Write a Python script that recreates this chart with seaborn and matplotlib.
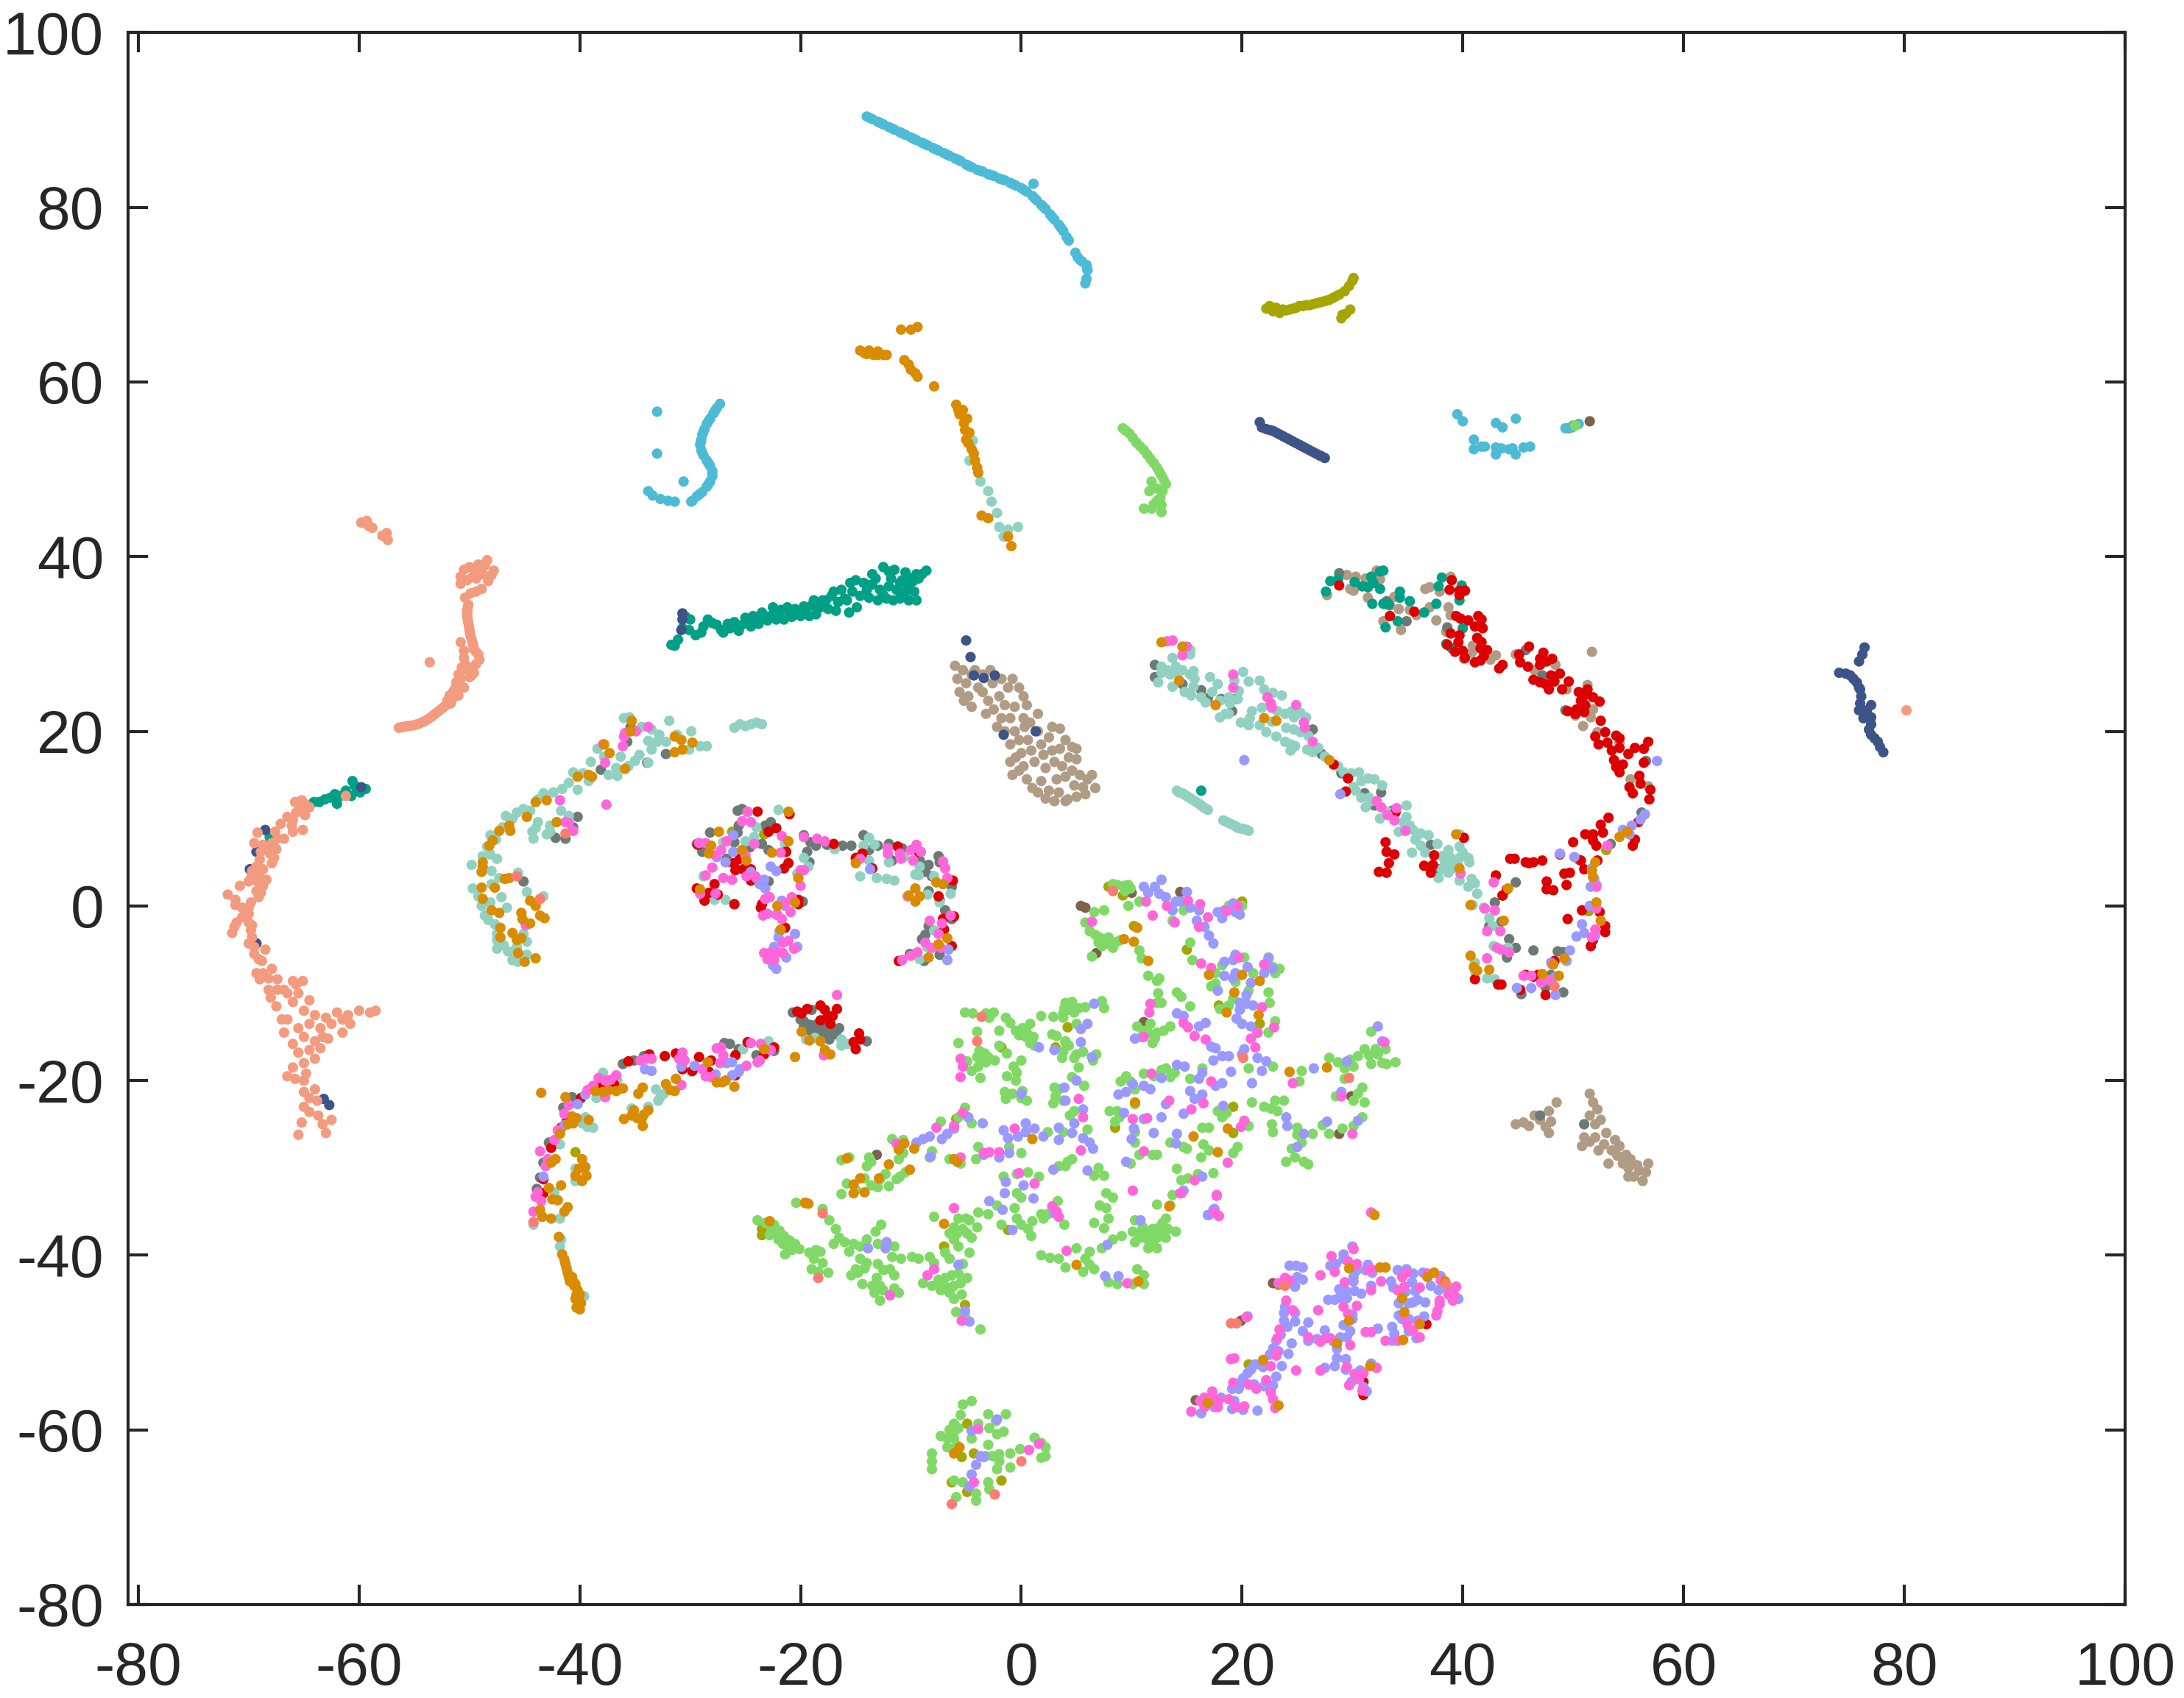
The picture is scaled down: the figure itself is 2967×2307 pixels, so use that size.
# tsne scatter, points
import pandas as pd
import matplotlib.pyplot as plt
import seaborn as sns

olive = [(22.2,68.4),(22.5,68.7),(22.8,68.1),(23.1,68.5),(23.4,67.9),(23.7,68.3),(24,68.2),(24.6,68.4),(25.2,68.7),
    (25.8,68.8),(26.4,68.9),(27,69.1),(27.6,69.3),(28.2,69.6),(28.8,70),(29.3,70.4),(29.7,71),(30,71.6),(30.1,71.9),
    (29,67.3),(29.4,67.8),(29.8,68.3),(29.1,67.7),(-23.3,8.2),(-26.2,8.5),(-40.4,-28.2),(50.5,5.3),(53,6.4),(51.4,-.6),
    (9.2,1.2),(7.9,2.2),(10.2,-2.3),(15,-5),(17.9,-11.4),(19.2,-23),(19.2,-26),(21.6,-13.5),(8.5,-25.4),(-23.5,-37.7),
    (-23.5,-37),(-7,-39),(-6.1,-62.2),(-5.4,-63.1),(-6.3,-66),(-4.9,-67.1),(-4.9,-59.3),(-4.3,-62.7),(-1.8,-65.8),
    (-1.8,-16.2),(4.2,-13.9),(4,-15.6),(-5.9,-24.4),(3.1,-16.2),(-1.2,-37.1),(-5.1,-45.7),(20,.5),(20.6,-52.5),(23.3,-43.4),
    (50,55),(49.6,54.7),(24.3,68.3),(24.9,68.5),(25.5,68.7),(26.1,68.8),(26.7,69),(27.3,69.2),(27.9,69.4),(28.5,69.8)]

brown = [(5.4,0),(5.8,-.2),(14.4,1.6),(6.8,-5.4),(10,1.5),(28.8,-26.1),(29.9,-21.8),(11.1,-13.3),(-13.1,-28.5),
    (51.5,55.5),(22.8,-43.2),(19.9,-47.5),(15.8,-56.6)]

tan = [(27.7,35.6),(29.5,37.9),(30.3,37.7),(31.2,37.5),(32.2,38.4),(32.5,37.4),(29.8,36.3),(30.1,36.1),(31.4,35.3),
    (33.8,35.4),(33.4,34.4),(34.2,34),(35.2,33.9),(35.8,33.3),(37,34.2),(36.6,36.3),(37,36.5),(37.9,36),(38.9,37.7),
    (38.7,34.2),(38.9,33.3),(37.6,32.7),(32.8,32.6),(34.4,31.6),(38.5,31.4),(40.9,29.8),(40.8,29),(40.1,28.3),(43,28.7),
    (42.5,28.2),(44.8,28.8),(46.5,27),(48.4,27.6),(49.4,24.8),(51.7,29.1),(51.3,25.3),(51.8,22.5),(51.6,21.6),(50.9,20.6),
    (50.2,21.8),(52.2,19.9),(55.2,14.5),(56.8,13.7),(54.2,18.7),
    (-6,27.5),(-5.8,26),(-5.6,24.5),(-5,25.5),(-4.8,24),(-4.2,27),(-3.9,25),(-3.5,24.5),(-3,23.5),(-2.6,25.5),(-2.5,22.5),
    (-2,24),(-1.8,26),(-1.5,23),(-1.2,25),(-1,21.5),(-.6,22.8),(-.2,25),(.2,24),(.5,23),(-1.5,20),(-1,18.5),(-.6,20),
    (-.2,19),(0,17.5),(.3,20.5),(.6,19),(.9,17.8),(1.2,16.5),(-.5,17),(-1,16.5),(1.5,20),(1.8,18.5),(2,17.3),(2.2,15.8),
    (2.5,19.3),(2.8,17.8),(3,16.5),(3.2,14.5),(3.5,18),(3.7,16),(4,14.8),(4.3,17),(4.6,15.5),(4.8,13.8),(5,12.5),(5.3,15),
    (5.6,13.6),(6,14.5),(6.4,15),(4.2,12.2),(3.4,13),(.5,14.5),(1,13.5),(1.8,14.3),(2.5,13.2),(3,12),(-4.5,22.8),(-.2,15.5),
    (5,16.8),(-5.3,27),(-5.2,23.5),(-4.5,26.5),(-3.5,26.5),(-3.2,22),(-2.2,20.5),(-1.8,21.5),(-2.8,27),(-.8,26),(.2,21.5),
    (.8,21),(1.5,22),(2.8,20.5),(3.5,20.3),(4,19),(4.6,18.2),(5,18),(.2,16),(-.8,15),(1.5,13),(2.2,12.3),(4,12),(5.8,12.8),(6.7,13.5),
    (44.8,-25),(45.5,-24.8),(46,-25.2),(46.5,-24),(47,-24.5),(47.5,-25.3),(47.8,-23.5),(48,-24.7),(48.5,-22.5),(47.8,-26),
    (51.5,-21.5),(51.8,-22.5),(52.2,-23.3),(51.5,-24),(52,-25),(52.5,-24.5),(51,-26.5),(50.8,-27.5),(51.5,-27),(52,-26.5),
    (52.3,-28),(52.8,-27.3),(53,-26),(53.5,-28),(53.8,-26.8),(54,-28.6),(54.2,-27.5),(54.5,-29.5),(54.8,-28.5),(55,-30),
    (55.2,-29),(55.5,-31),(55.8,-29.7),(56,-30.3),(56.3,-31.5),(56.6,-30.5),(56.8,-29.5),(53.2,-29.5),(55,-31)]

gray = [(-35.4,20.5),(-35.7,18.8),(-32.2,17.4),(-33.9,16.4),(-38.1,15.6),(-40.2,10.2),(-40.6,9),(-41.3,7.7),(-42.2,7.8),(-45.1,2.8),
    (-25.7,10.9),(-25.3,11.1),(-22.7,9.6),(-23.2,9.2),(-25.6,9.2),(-25.7,8.4),(-28.2,8.4),(-29.4,7.1),(-28.9,6.2),(-26,7.3),
    (-24.6,6.7),(-23.5,7.1),(-22.9,6.4),(-26.4,5),(-26.7,5.4),(-22.9,2.8),(-19.7,8.1),(-19.1,7.3),(-19.4,6.2),(-18.6,6.9),
    (-17.6,7),(-16.2,6.9),(-15.4,6.9),(-19.2,5),(-14.3,8.1),(-13.8,6.4),(-13,6.9),(-12,7.1),(-11.7,5.2),(-10.8,6.6),(-9.2,5.2),
    (-8.4,4.7),(-8.7,3.9),(-7.5,5.7),(-7.4,5),(-8.1,3.4),(-6.3,2.2),(-8.4,1.7),(-7.4,.7),(-6.9,-.5),(-6.3,-1.5),(-8.4,-2.3),
    (-8.7,-3.3),(-9,-3.8),(-8.5,-4.7),(-10.1,-5.5),(-7.4,-5.6),(-8.8,-6.3),(-19.8,.5),
    (-20.7,-12.2),(-20,-13),(-19.7,-13.8),(-19.2,-13.6),(-19.5,-14.3),(-18.7,-14.1),(-18.2,-14.5),(-17.8,-14),(-17.4,-14.5),
    (-17,-14.3),(-16.5,-14),(-17.4,-15.3),(-17.9,-14.9),(-18.7,-14.9),(-14,-15.5),(-19,-11.9),(-16.8,-14.7),(-19.2,-14.7),
    (-19.7,-13.2),(-18.6,-13.6),
    (-36.1,-18.1),(-35.1,-17.7),(-34.2,-17.2),(-26.9,-15.7),(-26.4,-15.8),(-25.6,-16.4),(-24,-17.1),(-22.4,-16.6),(-40.7,-21.9),
    (-41.5,-23.1),(-42.8,-27.1),(-43.3,-29.4),(-43.6,-31.1),(-43.9,-32.4),
    (12.1,27.6),(12.1,26.2),(14.6,25.4),(16.3,24.7),(16.9,23.8),(18.1,23.7),(19.1,22.3),(19.4,23.7),(26.4,20.2),(27.2,17.4),
    (29,15.2),(31.1,12.9),(32.6,13),(32,11.5),(33.6,10.9),(37.1,7),(37.9,4.2),(42.9,.4),(44.8,2.7),(43.6,1.2),(43.5,-1.8),
    (42.4,-2.3),(44.2,-3.8),(44.8,-4.8),(44,-5.9),(46.4,-5.1),(48.6,-5.2),(49.1,-5.3),(48,-7.9),(49.1,-9.9),(47.5,-9.3),
    (45.3,-10.1),(53.4,7.1),(56.2,10.7),(56.6,16.6),(33.1,34.9),(38.6,31.9),(45.7,29.3),(47.2,26.4),(49.3,22.4),(34.9,32.6),
    (28.8,38.1),(47,-24),(51,-25)]

mint = [(-28.5,18.3),(-29.1,18.3),(-29.9,20),(-31.9,21.2),(-30.1,17.9),(-31.2,19.6),(-32.2,18.8),(-32.8,19.6),(-33,18.8),(-33.8,18.9),
    (-33.5,17.9),(-33.8,16.4),(-34.6,17.3),(-35,16.6),(-35.6,16),(-36.3,17.1),(-36.7,15.8),(-36.6,14.9),(-37.4,15),(-36,21.5),
    (-35.5,21.6),(-34.4,20.5),(-33.5,20.2),(-38.4,18),(-37.8,17.1),(-39,16.5),(-39.7,15.2),(-40.6,15.3),(-39.2,14.3),(-40.2,13.3),
    (-41,14.1),(-41.6,13.4),(-42.4,13),(-43.3,12.9),(-43.8,12.2),(-41.7,10.9),(-41,10.3),(-42.7,9.2),(-43.8,9.6),(-44,8.9),
    (-42.7,8.5),(-44.3,8.5),(-43,8.2),(-44.2,7.7),(-44.5,10.9),(-45.1,11.1),(-45.7,10.7),(-46.7,10.3),(-46.1,10),(-47,9),(-48.1,8.1),
    (-47.6,7.6),(-48.4,6.8),(-48.8,5.7),(-47.5,5.4),(-48.1,5.9),(-49.8,4.7),(-48,4),(-45.6,3.8),(-47.3,3.2),(-49.7,2),(-48,2.5),
    (-44.8,1.6),(-49.2,1.1),(-47.1,1),(-43.3,1.1),(-48.9,0),(-48.1,.4),(-46.6,-.2),(-48.6,-1.1),(-48.3,-1.6),(-47.7,-2.1),
    (-47.5,-3.2),(-47.5,-3.9),(-45.1,-3.2),(-47.5,-4.9),(-46.9,-4.5),(-44.8,-4.1),(-46.5,-5.2),(-45.7,-4.7),(-46.1,-6.2),
    (-44.8,-5.6),(-45.6,-6.4),(-26,20.4),(-25.5,20.8),(-25,20.6),(-24.5,20.8),(-24,21),(-23.5,20.8),
    (-24.8,10.7),(-22,11),(-24,9),(-24.2,7.9),(-25,7.4),(-27,7.3),(-28.8,3.4),(-26.8,.7),(-26,.2),(-27.8,.7),(-21.4,7.1),
    (-19.7,5.5),(-19.3,4.5),(-20.3,3.7),(-16.9,6.5),(-13.8,7.8),(-13.3,7),(-14.3,6.9),(-13.8,5.2),(-12,5),(-14.6,3.4),(-13.1,3.2),
    (-12.2,3.1),(-11.5,2.9),(-10.6,5.6),(-9.2,4.5),(-9.6,3.6),(-9.3,3.5),(-7.9,3.4),(-8.5,1.3),(-6.4,1.4),(-7.4,.4),(-7.9,-2.8),
    (-8.5,-4.7),(-9.2,-6.1),
    (-16.3,-15.3),(-16.3,-16),(-15.7,-15.8),(-18.7,-15.1),(-19.5,-15.3),
    (-37.9,-19.1),(-36.6,-20),(-38.5,-22),(-33.1,-21),(-32.4,-21.5),(-32.7,-21.9),(-32.9,-22.3),(-35.3,-23.2),(-33.8,-23),
    (-39.5,-24.2),(-39.8,-24.9),(-39.3,-25.3),(-38.8,-25.4),(-41.8,-27.3),(-40.4,-30.1),(-40.4,-31.5),(-41.8,-35.8),(-44.2,-36.5),
    (-42.3,-32.8),(-41.8,-39),(-41.7,-38.2),(-29.9,-19),(-22.9,-15.5),(-25.2,-16.4),(-39.6,-44.7),
    (-4.7,51),(-3.7,48.6),(-3,47.5),(-2.7,46.3),(-2.2,45),(-2,43.4),(-1.2,43.1),(-.3,43.4),(-1.6,42.3),(-4.4,53.3),
    (13.7,28.4),(15.3,29.3),(15.3,28.8),(12.7,27.4),(13.2,27),(14,27.4),(14.6,27),(12.7,26.7),(13.5,26.5),(12.4,25.6),(13.7,25.1),
    (14.1,26.7),(15.3,26.5),(15.6,26.9),(15.7,26),(15.6,25.1),(14.8,24.5),(15.4,24.1),(16.3,23.9),(16.7,23.3),(17.1,26.2),
    (17.8,25.4),(17.3,24.5),(18,23.5),(18.8,23.9),(19.3,25.8),(19.7,24.6),(19.6,23.7),(18.9,23.2),(20.1,26.8),(20.6,25.7),
    (21.6,25.8),(22,24.8),(22.8,24.4),(23.6,24.1),(21.8,22.7),(20.9,22.3),(20.7,21.5),(18.5,22),(18,21.6),(18.8,22),(19.9,21),
    (20.6,20.7),(21.6,20.7),(22.2,19.9),(23.1,19.4),(23.2,22.3),(23.9,22),(24.5,22.3),(24.7,21.6),(25.3,22.1),(25.8,21.6),
    (22.7,21.1),(24,20.4),(24.7,20.2),(25.3,19.9),(26,19.5),(23.9,18.8),(24.4,18.5),(24.8,18.3),(24.4,17.8),(25.9,17.9),(26.4,17.6),
    (26.9,18.1),(27.5,17.1),(28.7,16),(29.2,15.3),(29.9,15.2),(30.6,15.3),(30.8,14.3),(31.4,14.6),(32,14.5),(32.7,13.8),(30.1,13.6),
    (30.3,13.2),(30.8,12.4),(31.5,12.4),(31.2,11.3),(31.7,12),(32.5,10),(33.1,10.8),(34.9,11.5),(34.9,10.2),(34.6,9.6),(35.2,9.2),
    (34.2,8.5),(35.5,8.7),(36.2,8.3),(36.9,8.1),(35.7,7.6),(36.2,6.9),(37.7,7.1),(36.6,6.1),(35.4,6.1),(38.7,6.4),(39.7,6.8),(40,6.1),
    (38.1,5.7),(40.5,5.5),(38.9,5.5),(40.6,5),(38.4,5),(39.5,4.9),(38.1,4.2),(39,4.3),(37.8,3.2),(38.7,3.8),(39.7,2.9),(40.8,3.1),
    (41.1,2.6),(40.5,2.2),(41.3,1.4),(40.9,.1),(41.9,-.2),(42.4,-1.4),(42.7,-2.3),(42.8,-4.6),(44.1,-4.8),(41.1,-6.5),(41.1,-7.5),
    (42.2,-8.3),(42.9,-8.4),(39.7,5.5),(39.7,8.2),
    (14.3,13),(14.6,12.9),(15.1,12.5),(15.6,12.1),(16.1,11.7),(16.5,11.3),(16.9,11),(18.3,9.8),(18.8,9.5),(19.3,9.2),(19.7,8.9),
    (20.2,8.8),(20.6,8.6),(14.1,13.2),(14.85,12.7),(15.35,12.3),(15.85,11.9),(16.3,11.5),(16.7,11.15),(18.55,9.65),(19.05,9.35),
    (19.5,9.05),(19.95,8.85),(20.4,8.7)]

cyan = [(-14.0,90.4),(-13.5,90.1),(-13,89.8),(-12.5,89.5),(-12,89.2),(-11.5,88.9),(-11,88.6),(-10.5,88.3),(-10,88.0),(-9.5,87.7),
    (-9,87.4),(-8.5,87.1),(-8,86.8),(-7.5,86.5),(-7,86.2),(-6.5,85.9),(-6,85.6),(-5.5,85.3),(-5,84.9),(-4.5,84.6),(-4,84.3),
    (-3.5,84.1),(-3,83.8),(-2.5,83.6),(-2,83.3),(-1.5,83.1),(-1,82.8),(-.5,82.5),(0,82.2),(.5,81.8),(1,81.3),(1.4,80.8),(1.8,80.3),
    (2.2,79.8),(2.6,79.2),(3,78.6),(3.4,78),(3.8,77.3),(4.1,76.6),(4.9,74.8),(5.1,74.3),(5.5,73.8),(5.9,73.4),(6,72.8),(5.9,71.8),
    (5.8,71.3),(1.1,82.7),(-13.75,90.25),(-12.75,89.65),(-11.75,89.05),(-10.75,88.45),(-9.75,87.85),(-8.75,87.25),(-7.75,86.65),
    (-6.75,86.05),(-5.75,85.45),(-4.75,84.75),(-3.75,84.2),(-2.75,83.7),(-1.75,83.2),(-.75,82.65),(.25,82),(1.2,81.05),(2,80.05),
    (2.8,78.9),(3.6,77.65),(4.3,76.2),(5.3,74),(5.95,73),
    (-27.3,57.5),(-27.6,57),(-27.9,56.4),(-28.2,55.8),(-28.5,55.2),(-28.7,54.6),(-28.9,54),(-29,53.4),(-29.1,52.8),(-29,52.2),
    (-28.8,51.6),(-28.5,51),(-28.2,50.4),(-28,49.8),(-28,49.2),(-28.2,48.6),(-28.5,48),(-28.9,47.4),(-29.4,46.9),(-29.8,46.4),
    (-27.75,56.7),(-28.35,55.5),(-28.8,54.3),(-29.05,53.1),(-28.9,51.9),(-28.35,50.7),(-28,49.5),(-28.35,48.3),(-29.15,47.15),
    (-33,56.6),(-33,51.8),(-30.6,48.6),(-33.8,47.5),(-32.7,46.6),(-31.4,46.3),(-29.9,46.3),(-33.4,47),(-32,46.4),
    (39.5,56.3),(40,55.5),(43,55.3),(44.8,55.8),(43.6,54.8),(41,53.4),(41.7,52.6),(43,52.5),(44.2,52.3),(46.1,52.6),(41,52.3),(43,51.7),
    (44.8,51.7),(49.3,54.7),(49.9,54.8),(50.5,55.2),(43.5,52.4),(44.5,52.4),(42,52.6),(45.5,52.5)]

teal = [(-31.7,29.9),(-31.4,29.8),(-31.1,30.5),(-30.7,31.8),(-30.4,33.1),(-30,32.8),(-30.1,31.6),(-29,31.3),(-28.4,32.8),(-28,32.4),
    (-27.2,31.6),(-26.4,31.8),(-26,32.5),(-25.6,31.5),(-25,33),(-24.5,32),(-24,32.8),(-23.5,33.6),(-23,32.7),(-22.5,34.2),(-22,33.3),
    (-21.5,32.8),(-21,33.5),(-20.5,34),(-20,33.2),(-19.5,33.5),(-19,34.4),(-18.6,33.4),(-18,35),(-17.5,34),(-17,36),(-16.6,34.8),
    (-16,35.2),(-15.6,33.6),(-15,37.3),(-14.6,35.5),(-14,36.2),(-13.5,36.8),(-13,35),(-12.5,35.6),(-12,36.6),(-11.6,35),(-11,37),
    (-10.5,36),(-10,37.5),(-9.5,35),(-9,38),(-8.6,38.4),(-12.5,38.8),(-12,38.3),(-11.5,38.5),(-13.5,38),(-14,36.8),(-10.5,38.2),
    (-9.5,38),(-15.5,37),(-11,35.2),(-29.5,31),(-28.8,32),(-27.6,32.2),(-27,31.3),(-26.6,32.3),(-25.8,31.9),(-25.3,32.2),(-24.8,32.5),
    (-24.3,33.2),(-23.8,32.3),(-23.2,33.2),(-22.7,33.2),(-22.2,32.8),(-21.8,33.9),(-21.2,34.2),(-20.8,33.1),(-20.2,33.7),(-19.7,34.3),
    (-19.2,33.2),(-18.8,35),(-18.2,34.2),(-17.7,35),(-17.2,35.5),(-16.8,33.8),(-16.3,36.2),(-15.8,35),(-15.3,36),(-14.9,34.2),(-14.3,37),
    (-13.8,35.3),(-13.2,37.5),(-12.8,36.2),(-12.2,35.2),(-11.8,37.5),(-11.3,36.2),(-10.8,37.3),(-10.2,36.7),(-9.8,37.2),(-9.3,37.5),
    (-9.7,36),(-10.2,35),
    (-64.1,11.9),(-63.6,11.9),(-63.1,12.2),(-62.6,12.4),(-62.2,12.8),(-62,11.7),(-61.7,12.6),(-61.2,13.2),(-60.7,12.6),(-60.6,14.3),
    (-60.4,13.8),(-60.2,13.2),(-59.9,13),(-59.4,13.4),(-68.1,7.9),
    (28,37.2),(27.6,36),(28.7,37.4),(30.2,37.1),(30.9,36.6),(31.7,37.7),(31.9,37),(31.4,36.5),(32.5,36.3),(32.5,38.3),(32.8,38.4),
    (34.3,36),(34.3,35.3),(35.2,34.9),(31.8,34.6),(32.8,34.6),(33.3,34.5),(36.5,33.6),(34.1,32.6),(33,31.9),(37.6,34.6),(38.1,37.6),
    (37.8,36.6),(39.9,36.7),(39.7,35),(40,31.8),(38.5,30),(39,29.5),(16.3,13.2)]

navy = [(21.6,55.4),(21.8,54.8),(22.2,54.6),(22.8,54.4),(23.4,54),(24,53.6),(24.6,53.2),(25.2,52.8),(25.8,52.4),(26.4,52),(27,51.6),
    (27.5,51.3),(76.4,29.6),(75.9,28),(76.2,28.8),(74.1,26.7),(74.7,26.6),(75.1,26.4),(75.7,25.6),(76.1,24),(75.9,25),(75.9,22.4),(76.6,22.4),
    (77,23),(77,20.8),(77,21.6),(77,19.6),(77.6,18.8),(78.1,17.6),(22.5,54.5),(23.1,54.2),(23.7,53.8),(24.3,53.4),(24.9,53),(25.5,52.6),
    (26.1,52.2),(26.7,51.8),(27.2,51.5),(76,23.2),(76.3,21.5),(76.8,20.2),(77.3,19.2),(77.8,18.2),(75.4,26),(76,24.8),
    (-5,30.4),(-4.6,28.5),(-4.3,26.4),(-3.4,26.1),(-2.4,26.4),(1.3,20),(-1.6,19.6),(-30.7,33.5),(-30.7,32.8),(-30.8,31.6),
    (-59.8,13.6),(-68.5,8.7),(-69.3,6.2),(-69.9,4.2),(-69.1,2.8),(-63.2,-22.1),(-62.7,-22.8),(-69.3,-4.3)]

salmon = [(-59.4,43.8),(-59.1,43.5),(-58.8,43.3),(-59.8,43.9),(-59.3,44.1),(-57.5,42.7),(-57.9,42.4),(-57.4,41.9),(80.2,22.4),
    (-48.4,39.6),(-49.2,39.1),(-50,38.8),(-50.5,38.5),(-47.8,38.4),(-48.6,39),(-49.4,38.4),(-48.8,38),(-48,37.9),(-50.8,37.7),
    (-50.2,37.3),(-50.8,36.9),(-49.4,37.5),(-48.3,37.2),(-49.7,37.7),(-49,38.6),(-48.9,36.3),(-49.4,36),(-49.9,35.8),(-50.4,35.3),
    (-50.1,34.5),(-50.2,33.9),(-50.2,33.1),(-50.1,32.4),(-50,31.6),(-49.9,30.9),(-49.7,30.1),(-49.6,29.4),(-50.8,30.2),(-49.2,28.8),
    (-49.1,28.2),(-50.5,29.2),(-50.5,28.4),(-49.4,27.7),(-50.4,27.7),(-49.6,26.7),(-50.7,27.3),(-51,26.5),(-50,26.2),(-51.2,25.6),
    (-50.5,25),(-51.3,24.9),(-51,24.1),(-51.8,24.1),(-52,23.5),(-52.1,23),(-52.6,22.5),(-53.1,22),(-53.5,21.6),(-54,21.2),(-54.5,20.9),
    (-55,20.7),(-55.5,20.6),(-56,20.5),(-56.4,20.4),(-53.6,27.9),(-52.35,22.75),(-52.85,22.25),(-53.3,21.8),(-53.75,21.4),(-54.25,21.05),
    (-54.75,20.8),(-55.25,20.65),(-55.75,20.55),(-56.2,20.45),(-50.15,34.2),(-50.2,33.5),(-50.15,32.75),(-50.05,32),(-49.95,31.25),
    (-49.8,30.5),(-49.65,29.75),(-49.4,29.1),(-51.5,24.5),(-50.9,25.3),(-50.8,26),(-49.8,26.4),(-50.2,27),(-49.7,27.3),(-51.5,23.8),(-51.7,23.2),
    (-65.2,12.1),(-64.9,11.7),(-65.8,11.9),(-64.5,11.3),(-65.3,11.3),(-64.9,10.4),(-65.7,10.7),(-66.5,10.2),(-66,9.8),(-67.1,9.4),
    (-66.1,9.2),(-65.1,8.7),(-66,8.5),(-67.6,8.5),(-69.2,8.4),(-66.8,7.7),(-67.4,7.7),(-67.9,7.2),(-69.5,7.2),(-68.7,7),(-68.2,6.8),
    (-67.5,6.5),(-68.9,6.2),(-68.1,6),(-67.7,5.5),(-67.9,4.9),(-69,5.3),(-69.3,4.5),(-68.7,4.2),(-69.7,4),(-69,3.8),(-69.8,3.2),
    (-68.4,3),(-69.2,2.8),(-70,2.8),(-68.7,2.3),(-70.8,2.3),(-69.3,1.7),(-68.9,1.5),(-71.9,1.3),(-69.1,1),(-71.2,.7),(-69.8,.4),
    (-71.2,.1),(-70.6,-.2),(-70,-.2),(-70,-.9),(-70.6,-1.3),(-71.1,-1.9),(-70,-1.9),(-69.7,-2.2),(-71.3,-2.4),(-71.5,-3.1),(-69.8,-2.8),
    (-69.7,-3.6),(-70,-4.3),(-69.5,-4.7),(-68.5,-5),(-69.5,-5.5),(-69.1,-6.1),(-68.8,-6.3),(-67.9,-7.2),(-69.3,-7.7),(-68.7,-7.7),
    (-69,-8.4),(-68.2,-8.3),(-67.4,-8.4),(-68.2,-9.6),(-67.4,-9.6),(-66.8,-9.6),(-66,-8.6),(-65.1,-8.6),(-65.7,-9),
    (-66.5,-10),(-66,-11),(-65.5,-10),(-65,-12),(-64.5,-10.8),(-64,-12.5),(-63,-12.8),(-62,-12.2),(-61,-12.5),(-60,-12),(-59,-12.2),
    (-58.5,-12),(-62.5,-13.5),(-61.5,-13),(-63.5,-14),(-64.5,-13.5),(-65.5,-14),(-66.5,-13),(-67.5,-11.5),(-67,-13),(-68,-10.5),
    (-66.8,-14.5),(-64,-15.5),(-65,-15),(-63.3,-15),(-66,-15.8),(-65.5,-16.8),(-64.5,-16.5),(-63.5,-16.3),(-62.8,-15.2),(-64,-17.5),
    (-65,-18),(-66,-18.5),(-66.5,-19.5),(-65.8,-19.8),(-65,-20),(-64.8,-19.2),(-64,-21),(-65,-21.3),(-64.5,-22),(-63.8,-22.3),(-65,-23),
    (-64.5,-23.6),(-63.7,-24),(-63.3,-25),(-63,-26),(-65.5,-26.2),(-65.2,-24.8),(-62.5,-24.5),(-61.5,-14.5),(-60.8,-13.5),(-61.2,12.6)]

red = [(-23.9,10.8),(-22.2,8.9),(-22.9,8.5),(-29.3,7),(-21.3,6.2),(-21.1,4.9),(-21.5,4.3),(-25.5,5.4),(-26,4.9),(-25.9,4.1),(-25.2,4.2),
    (-24.5,4.2),(-24.5,2.9),(-27.8,2.5),(-29.4,2),(-28.3,1.5),(-27.5,1.3),(-28.7,.6),(-26,.2),(-23.6,-.2),(-23.5,.2),(-20.2,.2),(-20.2,.7),
    (-17,7.1),(-11.2,6.8),(-14.4,6),(-15,5.5),(-13.5,4.3),(-9.3,6.2),(-6.2,2.9),(-7.5,1.1),(-7,-2.7),(-7.1,-1.5),(-6.1,-1.2),(-6.3,-4.6),
    (-11.1,-6.3),(-21,10.5),(-21.4,-2.5),
    (-20.3,-12.1),(-19.9,-12.3),(-19.4,-11.8),(-18.2,-11.4),(-17.8,-11.9),(-16.7,-11.8),(-17.1,-12.6),(-18.2,-13.1),(-17.6,-12.8),
    (-17.3,-13.5),(-14.7,-14.6),(-15.2,-15.6),(-14.6,-15.3),(-15,-16.4),
    (-35.6,-17.8),(-33.7,-17),(-32.3,-17.2),(-31.3,-16.9),(-29.2,-17.3),(-28.1,-17.7),(-25.9,-17.1),(-24.8,-15.6),(-22.4,-16.2),
    (-23.3,-17),(-30.7,-18.7),(-29.8,-18.9),(-28.3,-19),(-25.9,-19.4),(-36.9,-20.4),(-38,-20.4),(-39.9,-22),(-41.2,-24.7),(-41.7,-25.4),
    (-42.6,-27.7),(-43.3,-31.3),(-43.3,-32.9),
    (39,37.3),(38.8,36.2),(39.7,36.1),(40.2,36.1),(39.7,35.6),(28.8,36.7),(33.4,33.2),(35.6,33.7),(39.4,33.2),(39.8,32.9),(40.5,32.7),
    (41.4,33.2),(41.7,32.8),(41.1,32),(41.8,31.8),(38.9,31.2),(39.7,31),(39.6,30.2),(38.6,29.9),(39.3,29.1),(40,29.2),(40.2,28.4),
    (41.3,30.7),(41.7,30.2),(42.2,29.3),(41.6,29.5),(41.9,28.6),(41.1,27.9),(41.6,28.1),(43.6,27.6),(43.3,27.2),(46,29.7),(45.1,28.8),
    (45.2,27.9),(45.9,27.4),(47.3,29),(47,28.3),(48.1,28.3),(47.6,28),(47,27.6),(46.4,25.9),(47,25.6),(48,26.4),(48.8,26.6),(47.5,25.4),
    (48.3,25.7),(47.8,24.8),(49,24.8),(49.6,25.7),(50.5,24.5),(51.3,24.8),(51,24.1),(51.8,23.9),(52.4,23.4),(50.7,23.5),(51.1,23),
    (50.3,22.5),(49.5,22.3),(51,22.2),(50.2,22),(52.5,21.2),(52,19.4),(52.9,19.9),(53.9,19.5),(52.3,18.5),(53.1,18.7),(54.2,19.2),
    (53.5,17.8),(54.2,18.1),(55,17.4),(55.6,18.1),(56.4,18),(56.8,18.8),(54.5,16.2),(53.7,16.7),(53.9,15.9),(54.2,15.3),(56.4,16.4),
    (56,14.9),(55.1,13.6),(56.1,14),(55.4,12.9),(57,13.3),(56.9,12.2),(53.2,10.1),(52.5,9.3),(52.7,8.4),(51.1,8.2),(51.8,8.2),(50,7.3),
    (52.1,6.9),(51.8,7.5),(55.4,6.9),(55.6,7.6),(55.9,9.6),(48.8,5.9),(44.3,5.4),(44.7,5.4),(45.7,5),(46.4,5),(47.2,5.2),(46,4.9),(50.7,5.2),
    (52.2,5.2),(51,4.2),(49.2,3.7),(49.7,3.8),(47.6,2.8),(49.4,2.4),(47.6,1.9),(48.2,1.8),(43,3.5),(44,1.9),(43.6,1.2),(50.8,-.5),(52.4,-.7),
    (49.5,-1.5),(52.9,-2.3),(52.9,-3),(51.6,-4.6),(51.8,-3.9),(41.1,-8.4),(43.2,-9),(43.5,-9),(45.7,-7.9),(46.4,-8.1),(46.8,-7.9),(47.5,-10.2),
    (45.2,-9.6),(48.3,-6.3),(28.3,16.2),(29.6,14.6),(29.4,13.1),(33.9,10.7),(33,7.3),(33.1,6.2),(33.8,5.9),(33.3,4.9),(33.1,3.8),(32.4,3.9),
    (36.5,4.6),(37.3,4.7),(37.1,3.8),(37.4,5.8),(40.1,7.8),(36.7,-47.9),(31,-56),(31,-54.5)]

green = [(9.2,54.7),(9.8,54.1),(10.4,53.1),(11.1,52.2),(11.7,51.2),(12.3,50.2),(12.7,49.3),(13.1,48.3),(11.8,48.6),(12.3,47.8),(11.6,47.5),
    (12.6,46.7),(12.7,45.9),(11.1,45.5),(11.8,45.5),(12.7,45.1),(12.8,47.5),(50.2,55),(9.5,54.4),(10.1,53.6),(10.75,52.65),(11.4,51.7),
    (12,50.7),(12.5,49.75),(12.9,48.8),(12.3,46.4),(12,46),
    (8.7,2.4),(9.3,2.3),(9.9,2),(10.7,.5),(9.7,0),(13.7,-1.7),(14.7,-.5),(20,0),(18.8,0),(7.5,-.5),(6.6,-.7),(5.8,-1.9),(6.2,-2.9),(7.1,-3.6),
    (7.9,-3.6),(8.7,-4.1),(7.3,-4.6),(8.3,-4.8),(6.4,-5.8),(10.7,-5.1),(10.9,-6),(11.5,-8),(12.5,-8.3),(12.3,-8.6),(15.3,-4.2),(15.5,-6.2),
    (18.2,-6.8),(20.2,-5.9),(22.4,-5.9),(23.4,-7.2),(22.8,-7),(17.6,-7.7),(17.2,-9.2),(19.4,-8.7),(21,-7.7),(23,-7.7),(17.6,-8.9),(20.6,-9.7),
    (22.4,-9.9),(19.2,-10.6),(22.5,-11.1),(18.8,-11.4),(18,-11.8),(23,-13.2),(22.4,-14.5),(12.4,-10),(14.1,-9.9),(15.3,-11.5),(12.7,-11.1),
    (12.3,-11.1),(14.5,-10.4),(10.5,-13.8),(11.1,-14.3),(11.7,-13.5),(11.5,-14.5),(12.3,-14.5),(12.9,-14.3),(13.5,-13.8),(11.9,-15.7),(10.9,-15),
    (12.1,-15.2),(9,-3.9),(8.2,-4.2),(7.8,-4.3),(7,-4.2),(6.7,-3.3),(9.4,1.7),(9.7,2.4),(8.3,2.5),
    (-5.1,-12.2),(-4.4,-12.3),(-3.2,-12.3),(-2.5,-12.2),(-2.9,-12.8),(-1.4,-12.8),(-1,-13.4),(-.5,-14.3),(.1,-14),(.8,-13.5),(1.8,-12.6),
    (2.9,-12.7),(3.8,-12.3),(4,-11.1),(4.6,-11),(4.2,-11.9),(4.8,-12.2),(3.8,-12.8),(5.8,-11.6),(7.3,-10.9),(7.5,-11.7),(5,-13.5),(2.8,-14.7),
    (3.2,-14.9),(.4,-15),(.8,-15.7),(1.2,-16),(4,-15.5),(-2,-14.3),(-4,-14.4),(-5.7,-15.7),(-2,-16),(-1.3,-16.9),(-2.4,-17.7),(-4,-17.3),
    (-4.9,-17.8),(-3.2,-17.9),(-3.9,-18.4),(-4.5,-18.9),(-3.7,-19.7),(0,-17.7),(-.7,-18.4),(-.4,-19.1),(-1.3,-19.5),(-.5,-20),(3.8,-16.7),
    (5,-17),(5.6,-16.7),(4.8,-17.4),(5.2,-18.5),(6.8,-17),(6.5,-17.7),(4.6,-19.6),(5.7,-20.6),(3.4,-21),(3,-20.8),(3.8,-22.3),(3.1,-21.8),
    (2.9,-22.6),(-1.5,-21.3),(-1.4,-22.1),(-.8,-21.5),(.1,-21.2),(0,-22),(.5,-22.3),(8,-23.5),(8.7,-23.5),(8.5,-24.7),(8.9,-24.2),(6,-25.6),
    (4.4,-24),(4.8,-23.5),(3.8,-25.9),(2.4,-25.9),(0,-28.3),(-1.1,-27.6),(-4.1,-29),(-5.5,-29.5),(-6.5,-29),(-7.3,-24.7),(-5.1,-23.1),
    (-4.5,-24.9),(-5.7,-24.2),(-3.9,-27.6),(-8.1,-28.1),(-8.3,-28.8),(4.2,-29.3),(4.6,-29),(4,-29.8),(3.4,-29.8),(7,-30),(6.6,-30.9),(7.5,-30.9),
    (4.3,-16),(3.7,-17.4),(4.5,-11.5),(3.9,-11.7),(5.2,-11.7),(-.2,-14.8),(.5,-14.5),(1.1,-15),(-3.3,-16.9),(-3,-17.3),(-3.5,-17.6),(-3.8,-16.6),
    (-11.7,-26.7),(-10.7,-26.8),(-13.8,-28.8),(-14,-29.8),(-16.3,-29.1),(-15.6,-28.8),(-11.1,-29),(-10.7,-28.3),(-10.5,-30.5),(-12.3,-30.7),
    (-14.2,-31.2),(-15.8,-31.8),(-16.3,-33),(-15,-32.5),(-13.6,-32),(-13,-32.2),(-12,-32.1),(-11.3,-31.3),(-11,-31),(-12.8,-31.3),(-13.6,-29.3),
    (-20.4,-34),(-19.6,-34),(-18,-34.7),
    (-23.9,-36),(-23.2,-36.3),(-22.6,-37),(-22.8,-37.7),(-22.2,-37.5),(-22,-38.2),(-21.6,-38.7),(-21.2,-39),(-20.8,-39.4),(-21.4,-39.9),
    (-20.1,-39.3),(-19.2,-39.7),(-18.6,-39.4),(-18.2,-39.6),(-18.8,-40.4),(-18,-40.9),(-19,-41.6),(-18.4,-41.9),(-17.5,-42),(-17.4,-36),
    (-16.8,-37),(-16.5,-38),(-17,-38.7),(-16,-38.5),(-15.2,-38.7),(-14.6,-39),(-14,-38.2),(-13.2,-37.3),(-12.7,-36.5),(-11.5,-39),(-13,-38.7),
    (-14.6,-40.4),(-14,-40.9),(-15,-41.6),(-15.4,-42.3),(-14.4,-43.3),(-13.5,-43.5),(-13.1,-42.6),(-11.9,-41.6),(-11.5,-42.3),(-11.7,-40.2),
    (-10.9,-40.4),(-9.9,-40.2),(-9.3,-40.4),(-12.8,-45.2),(-11.1,-44.3),(-11.5,-43.8),(-12.5,-44),(-13.3,-44.3),(-8.3,-40.2),(-7.9,-40.9),
    (-8.9,-43.2),(-8.1,-43.5),(-7.3,-44),(-6.5,-44.3),(-6.1,-43.5),(-6.9,-42.6),(-6.3,-42.3),(-4.9,-42.6),(-5.7,-42.1),(-6.1,-45),(-5.9,-46.5),
    (-5.1,-47),(-3.7,-48.5),(-6.9,-39.7),(-6.5,-40.4),(-6.1,-38.2),(-6.1,-36.8),(-6.5,-37.5),(-5.7,-35.8),(-4.7,-36),(-4,-36.8),(-4.9,-37.5),
    (-4.5,-38),(-5.7,-39),(-4.7,-39.7),(-7.9,-35.6),(-3.9,-35.1),(-3,-35.3),
    (-22.4,-36.5),(-21.9,-37.2),(-21.5,-37.8),(-21,-38.3),(-20.5,-38.7),(-15.6,-39.6),(-14.8,-42),(-14.2,-41.5),(-13,-41),(-12.5,-41.7),
    (-12.8,-43.5),(-7.5,-42.8),(-7.5,-43.3),(-6.7,-43.7),(-5.5,-43.2),(-5.3,-41),(-5.3,-37),(-5.8,-37.5),(-5,-35.8),(-5.4,-44.5),
    (-1.6,-31),(-.4,-30.7),(.6,-30.5),(1.6,-31),(-2.2,-34.3),(-.4,-32.9),(0,-33.4),(-.6,-34.6),(-.4,-35.8),(-1.8,-36.5),(0,-36.5),(.6,-37),
    (.9,-37.8),(1,-36.1),(2,-35.8),(1.8,-35.3),(2.4,-35.3),(3.3,-33.8),(3.9,-36.5),(1.8,-40),(2.6,-40.3),(3.4,-40.4),(5,-39.2),(6.2,-39.6),
    (5.8,-40.4),(6.2,-41.1),(4,-41.4),(5.6,-41.9),(6.6,-41.6),(7.3,-39.2),(8.3,-38.2),(9.1,-37.8),(7.9,-43.1),(8.7,-43.3),(10.1,-43.3),
    (11.1,-43.3),(10.5,-41.6),(11.1,-42.3),(7.7,-32.9),(8.3,-33.4),(7.1,-34.3),(7.7,-34.6),(6.6,-36.3),(7.9,-35.8),(7.5,-36.9),
    (10.3,-36),(10.1,-37.3),(10.7,-37.5),(11.3,-37.5),(11.9,-37),(12.5,-36.8),(13.1,-35.8),(13.5,-34.3),(12.3,-34.2),(13.7,-33.1),(14,-37.3),
    (13.1,-38),(12.3,-38),(11.5,-39.2),(12.3,-39.2),(11.9,-38.5),(10.8,-38),(11.5,-38.3),(12.7,-37.5),(12.8,-36.3),(13.3,-37),(11,-36.8),
    (12,-37.8),(10.3,-38.5),
    (9,-20.1),(9.9,-20.1),(11.1,-19.2),(13.5,-19.6),(13.9,-19.1),(13.1,-18.6),(15.3,-19.8),(16.4,-18.6),(20.6,-18.6),(20.9,-22.5),(22.8,-18.4),
    (10.3,-22.7),(10.3,-25.9),(10.3,-27.1),(10.7,-28.5),(9.9,-29.5),(11.9,-28.5),(12.3,-28.5),(13.5,-27.1),(14.1,-30.1),(14.7,-27.6),(15,-27.8),
    (16.5,-27.3),(17,-28),(16.3,-28.8),(16.4,-25.4),(17,-25.4),(17.8,-23.5),(18.6,-23.7),(18.2,-24.2),(19.6,-27.6),(19.2,-28.3),(20.6,-25.2),
    (16,-30.7),(15.1,-31.2),(14.5,-31.4),(17.4,-30.6),(10.3,-21),(9.5,-19.5),(12,-19.5),(12.7,-18.8),
    (22,-23),(22.6,-23.2),(23,-22.3),(23.2,-23.5),(23.8,-22.3),(22.8,-25.9),(25,-25.4),(26.4,-26.1),(25.4,-27.1),(24,-29.3),(24.8,-28.8),
    (25.6,-29.3),(26,-29.6),(25.4,-18.9),(25.2,-20.1),(27.9,-17.4),(28.7,-17.9),(29.3,-18.6),(29.3,-19.8),(30.1,-18.4),(30.5,-17.2),(31.1,-16.4),
    (31.7,-18.1),(32.1,-16.4),(31.7,-14.4),(33,-16.4),(33.1,-18.1),(33.9,-17.9),(28.5,-21.8),(30.9,-20.8),(31.1,-22.5),(30.1,-22.3),(30.9,-24.2),
    (30.1,-25.2),(29.1,-25.5),(27.9,-26.1),(27.3,-25.1),(22.7,-25),(25,-26.2),(24.5,-27.8),(31.5,-17.1),(32.3,-17),(29.8,-17.6),(32.7,-18),(30.5,-21.5),
    (-4.5,-56.7),(-5.3,-57.1),(-5.5,-58.3),(-6.1,-59.3),(-6.5,-60),(-6.1,-60.2),(-7.3,-60.7),(-6.1,-61),(-6.7,-62),(-3,-58.2),(-1.4,-58.2),
    (-3.9,-59.3),(-2.9,-59.8),(-1.6,-60.2),(-2.2,-60.5),(-8.1,-62.7),(-8.1,-63.6),(-8.1,-64.5),(-3,-61.7),(-2.6,-63),(-2,-62.8),(-1,-62.7),
    (-.1,-62.2),(1.2,-60.9),(1.8,-61.5),(2.2,-62),(2.2,-63),(1.8,-63.2),(-2.2,-64.5),(-1,-64.3),(-6.1,-65.8),(-5.3,-66),(-3,-66),(-2.9,-66.8),
    (-4.1,-68.1),(-5.9,-67.7),(-4.5,-61),(-4.1,-67.3),(-3.2,-63),(-2,-63.6),(-2.3,-59),(-6.7,-61),(-5.7,-59.8),(-5.8,-61.8)]

purple = [(-26.1,8.1),(-26.1,6.2),(-27.6,5.6),(-26.8,5),(-24.5,3.9),(-22.7,4.5),(-22.2,4),(-24,3.2),(-23.3,3),(-23.7,2.5),(-23.2,2),(-21.7,.6),
    (-21.4,0),(-22.2,-1),(-21.9,-2.9),(-20.5,-3.2),(-22,-3.6),(-20.3,-4.7),(-22.4,-4.7),(-21.3,-5.9),(-22.5,-6.8),(-22.2,-7.2),(-13.7,4.2),
    (-6.6,-5),(-6.7,-6.2),(-34.1,-18.7),(-33.5,-18.9),(-29.6,-18.3),(-30.8,-18.4),(-26.7,-18),(-26.2,-17.9),(-25.5,-18.7),(-25.6,-19),
    (-26.2,-19.4),(-27.7,-19.3),(-40.2,-22.7),(-39.5,-21.6),(-41.4,-25.1),(-43.3,-31),
    (20.2,16.7),(28.9,12.8),(56.5,10.5),(56.1,9.9),(55.3,9.2),(54.5,8.7),(55.1,8.2),(57.6,16.6),(48.8,6),(50.1,5.6),(51.7,4.3),(51.9,3.1),
    (52.1,2.4),(51.6,2.2),(51.5,0),(50.8,-2.1),(50.3,-3.5),(51,-3.1),(52,-3.4),(49.7,-5.1),(49.4,-6.3),(48.4,-8.1),(46.2,-9.4),(44.9,-9.4),
    (48.4,-10.2),(48,-6.5),
    (6.6,-11.2),(6,-13.5),(5.4,-14.1),(5.4,-15.6),(3,-16.5),(1.6,-16.2),(6.4,-17.3),(5,-20),(3.9,-20.8),(4,-22.3),(0,-21.5),(5.6,-23.3),
    (-3.5,-24.9),(-4.8,-24.2),(-6.1,-25.5),(-6.7,-26.1),(-7.2,-26.7),(-8.3,-26.4),(-8.9,-26.7),(-9.5,-27.1),(-8.2,-28.7),(-1.6,-25.7),
    (-1.2,-26.6),(-.3,-26.4),(.4,-24.9),(.4,-25.9),(1.2,-25.5),(2,-26.4),(3.4,-25.4),(4.6,-26),(3.4,-26.8),(4.8,-24.9),(5.6,-26.6),(6.2,-27.1),
    (6.5,-27.8),(-1.1,-28.3),(-2,-28.8),(-3.4,-28.5),(2.9,-30.2),(6,-30.3),(-1.4,-31.6),(.2,-32),(-1.5,-32.9),(-2.9,-33.8),(1.1,-33.5),
    (-1.7,-34.8),(-.8,-37.1),(3,-35.2),(-13.9,-39.2),(-12.2,-38.5),(-12.3,-39.2),(-5.7,-41.1),(-5.1,-46.4),(-4.7,-47.6),(7.8,-38.8),(10.8,-36),
    (7.6,-42.4),(8.8,-42.4),
    (11.1,2.2),(12.1,2.2),(12.7,3),(11.5,1.5),(12.5,1.4),(13.1,1),(14,.5),(14.5,.5),(15,1.6),(13.7,-.5),(15.3,-.2),(16.1,-.5),(15.9,-1.7),
    (16.6,-2.4),(17,-3.4),(17.4,-4.3),(17.8,-.7),(18.2,-1.4),(18.4,-.5),(19.4,-.7),(19.8,-1),(19.2,.3),(19.4,-5.6),(18.4,-6.4),(19.2,-6.2),
    (20.5,-7),(19.4,-7.7),(22.4,-6),(22.2,-6.8),(22.8,-7.2),(22,-7.7),(18.4,-8),(19.2,-8.3),(20.8,-8.8),(17.8,-9.7),(20.4,-10.2),(19.8,-11.1),
    (20.4,-11.2),(21,-11.4),(19.8,-11.9),(19.5,-12.9),(20,-13.5),(20.8,-13.8),(21.4,-14.5),(14.1,-12.3),(14.7,-12.6),(16.1,-13.8),(16.7,-13.4),
    (10.3,-15.2),(17.2,-16.1),(17.6,-16.3),(18.2,-17.2),(18.8,-17.2),(17.4,-17.7),(20.2,-16.4),(20,-17),(21.4,-17.4),(22.2,-17.8),(19,-19),
    (21.8,-18.9),(20.9,-20.3),(32.3,-13.8),(32.7,-15.5),(26.5,-18.6),(29.5,-17.8),(29,-21.3),(27.7,-24.7),(30.5,-24.6),(24,-24.2),(24.1,-25.2),
    (25.6,-26.1),(25,-27.6),(14.1,-18.2),(14.8,-18.4),(16.4,-19.1),(16.1,-19.8),(17.6,-20.6),(18.2,-20.3),(12.7,-19.7),(11.7,-21),(11.1,-20.6),
    (10.1,-20.4),(9.5,-21.3),(8.8,-21.6),(15.3,-21.2),(16.4,-21.6),(15.7,-22.1),(13.1,-22.7),(12.7,-24.2),(14.7,-23.8),(18.3,-22.9),(9.3,-23.7),
    (11.1,-24.4),(10.2,-25.5),(10,-26.7),(12,-26),(14.1,-26.1),(14,-27.2),(9.5,-29.3),(16.4,-31),(14.7,-32.6),(17,-35.4),(17.5,-34.7),
    (-2.2,-58.8),(-4.5,-60.1),(-3.7,-63),(-3.4,-63.1),(-4.1,-64),(-4.5,-65.1),(-4.7,-66.5),
    (16.9,-35.4),(17.4,-34.8),(24.3,-41.2),(24.9,-41.2),(25.5,-41.4),(25,-42.5),(25.5,-42.8),(24.8,-43.6),(28,-41.2),(28.5,-41),(29.2,-39.9),
    (30,-39),(29.2,-40.4),(30.4,-41.7),(30.1,-42.5),(30.1,-43),(28.8,-43.9),(29.4,-44.1),(30.2,-44.1),(30.8,-44.4),(29.5,-44.9),(27.8,-45.1),
    (28.4,-45.1),(28.8,-44.9),(31.4,-41.1),(31.8,-42),(31.2,-41.7),(31.7,-43.5),(34.1,-41.7),(34.9,-41.6),(35.5,-42.1),(35.4,-43.1),(33.5,-43),
    (33.7,-43.7),(34.8,-44.2),(35.7,-44.1),(37.1,-43.5),(37.8,-44),(36.4,-42),(38,-42.4),(34.2,-45.5),(35.1,-45.5),(35.5,-45.4),(35.9,-45.1),
    (36.6,-45.4),(38.7,-44.1),(39.6,-45),(34.2,-46.9),(34.5,-47.3),(35.1,-47.3),(36.5,-47),(35.9,-47.5),(35.1,-48.7),(35.8,-49.5),(33.6,-48.2),
    (33.8,-49),(33.6,-49.8),(32.3,-48.4),(30,-46.8),(30,-47.3),(29.2,-48),(29.8,-48.7),(29.5,-49.4),(28.9,-49.4),(28.3,-49.9),(28.6,-50.7),
    (26.8,-49.6),(27.5,-48.6),(26,-47.7),(25.5,-48.7),(26,-49.8),(24.8,-47.6),(24.8,-46.6),(23.9,-45.9),(23.8,-46.6),(23.8,-47.5),(24.1,-48.2),
    (23.5,-49.1),(23.1,-49.8),(22.8,-50.7),(23.3,-51),(22.5,-51.4),(24.5,-50.1),(24.2,-51.3),(23.6,-52.7),(23.1,-53.9),(21.9,-52.8),(21.2,-52.5),
    (20.8,-53.1),(20.5,-53.5),(20.1,-54.1),(19.9,-54.6),(19.7,-55.3),(19.1,-55.3),(21.1,-54.8),(22,-55),(22.8,-54.9),(22.6,-55.5),(18.1,-56.3),
    (19.3,-56.7),(19.1,-57.6),(20.1,-57.7),(21.4,-57.8),(17.5,-57.4),(16.3,-58.1),(28.6,-51.8),(29.4,-51.9),(28.4,-52.7),(27.5,-52.9),(29.4,-53.1),
    (30.7,-53.2),(31.7,-52.4),(29.9,-54.5),(31,-55.1),(31.3,-55.6),(20.5,-47)]

pink = [(-37.9,18.5),(-36,19.4),(-35.9,19.8),(-34.9,20),(-33.8,20.5),(-36.1,18.3),(-37.7,16.4),(-41.8,12.1),(-37.6,11.6),(-41.3,9.6),(-41,9.5),
    (-40.6,8.6),(-44.9,-2.2),
    (-24.8,10.8),(-25.3,9.7),(-24.5,9.6),(-21.7,8),(-29.2,7.2),(-28.6,7.2),(-26.7,7.4),(-24.2,7.1),(-27.2,6.4),(-27.7,5.8),(-25,5.8),(-21.8,6.1),
    (-28,4.4),(-28.6,3.5),(-26.2,3),(-27,3.2),(-24.9,3.4),(-24.1,3.4),(-29.1,1.4),(-27.7,1.4),(-23.2,.8),(-22.8,1),(-20.8,1),(-21.4,.3),(-20.9,-.7),
    (-23.4,-1.1),(-23,-.9),(-22.1,-1),(-21.7,-1.5),(-21.1,-4),(-21.6,-4.2),(-20.6,-4.9),(-23.3,-5.4),(-22.7,-5.3),(-22,-5.3),(-21.6,-5.4),(-23,-6.1),
    (-22.4,-6.2),(-20,4.1),(-19.7,4.1),(-20,2.3),(-19.7,7.9),(-18.5,7.7),(-17.8,7.4),(-14.6,5.4),(-12.1,6.6),(-12.1,6),(-11,6),(-10.9,5.4),(-10,6.4),
    (-9.5,7),(-9.1,6.2),(-9.8,5.2),(-7.1,5.1),(-6.9,4.3),(-6.7,3.2),(-10.3,1.1),(-8.3,-1.7),(-7.2,-2),(-7.5,-3.2),(-8.7,-4.2),(-6.4,-1.1),(-7.3,-4.8),
    (-8.1,-4.8),(-9.4,-5.3),(-10,-5.7),(-10.8,-6.2),(-16.7,-10.2),(-17.9,-17.1),
    (-34.5,-17.7),(-34,-17.5),(-33.5,-17.5),(-30.7,-16.8),(-31,-17.5),(-30.5,-17.7),(-27.6,-16.3),(-27.2,-16.2),(-27,-17.1),(-27.3,-18),(-24.5,-15.7),
    (-23.6,-15.8),(-22.7,-16.5),(-23.9,-17.9),(-23.7,-17.7),(-24.9,-18.3),(-28.9,-18.7),(-28.6,-19.5),(-28.1,-19.6),(-30.8,-20.5),(-36.7,-19.4),
    (-37.2,-19.9),(-37.7,-20),(-38.3,-19.7),(-38.8,-20.6),(-39.3,-21.1),(-37.7,-21.9),(-41,-22.8),(-41.4,-23.8),(-42,-25.7),(-42.3,-26.8),(-43.6,-28.1),
    (-42.9,-29),(-43.1,-29.8),(-43.8,-32.8),(-44,-33.3),(-43.5,-33.8),(-44.2,-35),
    (13.7,30.4),(13.2,30.3),(15,29.7),(14.6,28.7),(19.2,26.5),(19.2,25),(22.3,23.9),(22.6,23.2),(22.7,22.7),(24.9,23),(25.6,21),(25.7,20.4),(26.4,18.8),
    (32.2,12),(32.6,11.3),(33.2,10.4),(34,11.2),(33.8,9.8),(34.8,8.6),(39.8,3.7),(42.8,2.7),(42,-.3),(42.9,-.5),(42.2,-2.9),(43.4,-2.9),(43.1,-4.8),
    (43.5,-5),(44.2,-5.3),(42.2,-6),(53.1,6.9),(52.1,2.2),(52.1,-.3),(52,-2.7),(51.7,-3.6),(45.5,-8),(46.2,-8),(47.1,-8.8),(47.8,-8.5),(48.1,-6.7),
    (-5.5,-17.5),(-5.3,-18.4),(-5.5,-19.6),(5.2,-22.1),(5.6,-24.2),(5.4,-28),(-.2,-30.6),(1.2,-31.8),(2.8,-34.4),(3.4,-35.6),(-6.1,-34.6),(-5.3,-23.7),
    (-6.1,-25.2),(-7.7,-25.4),(-11.3,-27.2),(-5.5,-28.8),(-3.4,-28.3),(-2.9,-28.2),(-2,-28.2),(-.6,-25.5),(4.1,-39.5),(9.6,-43.2),(-11.9,-44.6),
    (-7.9,-41.6),(-8.5,-42.3),(-5.4,-47.5),(3.2,-35),(10.1,-32.6),(11.1,-28.1),(18.7,-29.4),(17.7,-33.1),(14.4,-32.9),(15.7,-31.4),(17.6,-35.2),
    (17.9,-35.5),(11.3,.5),(11.9,-1.1),(6.4,-1.8),(13.9,-1.9),(15.1,.6),(13.2,0),(16.2,.2),(16.9,-1.3),(16.1,-2.4),(19.6,0),(18.6,-.6),(19.7,-5.9),
    (22,-6.7),(16.3,-6.6),(17.2,-7.1),(21.8,-11.6),(11.7,-11.2),(11.6,-12.2),(11.1,-15),(14.7,-13.4),(15.1,-13.9),(15.7,-14.9),(16.7,-15.3),(20.8,-15.2),
    (21.2,-16.2),(21.4,-14.5),(22.9,-13.9),(17.2,-20.1),(16.5,-22.6),(15.4,-23.3),(13.4,-22.3),(11.8,-19.2),(10.1,-24.4),(11.4,-24.3),(20.2,-24.6),
    (19.9,-25.3),(24.6,-20.3),(29,-21.8),(30,-26.1),(32.9,-15.6),(-3.9,-59.9),(1.6,-61.6),(.7,-62.3),(-4.3,-66),
    (17.7,-33.2),(17.5,-35.1),(17.9,-35.5),(14.5,-32.9),(31.7,-35.1),(28.1,-40.1),(30.1,-39.3),(29.6,-40.7),(30.4,-41),(28.4,-41.9),(27.1,-42.3),
    (31.7,-41.6),(31.5,-41.7),(29.3,-43.1),(32.6,-43),(31.7,-44),(34.9,-42),(34.5,-42.5),(34.7,-43.6),(34.1,-44),(36.1,-43.7),(36.8,-42.1),(38,-42.9),
    (39.4,-43.6),(38.7,-44.5),(39.2,-44.5),(39.1,-45.2),(37.9,-45.2),(37.9,-45.6),(37.7,-46.4),(37.6,-46.9),(23.9,-42.6),(23.3,-43.2),(24.3,-42.9),
    (24,-45.2),(24.6,-46.3),(26.9,-46.3),(29.2,-45.9),(30.4,-45.8),(29.6,-46.7),(23.4,-48.5),(23.2,-49.5),(34.7,-46.9),(35,-48),(35.5,-48.6),(36,-47.7),
    (36.1,-49.4),(26,-49.4),(27.1,-49.9),(27.6,-49.5),(28,-49.5),(31.2,-48.8),(31.7,-48.8),(29.8,-50.3),(33,-49.8),(34.1,-49.8),(20.4,-47.1),(23.1,-51.2),
    (23.1,-51.5),(22.6,-52.7),(19,-51.9),(19.3,-51.8),(24.9,-53.2),(27.1,-53.2),(29.5,-52.8),(32.2,-52.9),(30.2,-53.6),(31,-53.5),(30.6,-54.2),(29.7,-54.9),
    (30.9,-55.5),(22.2,-54.3),(19.2,-54.6),(20.6,-54.8),(21.3,-55.3),(22.6,-55.7),(22.8,-56.5),(23,-57.5),(17.3,-55.6),(16.6,-56.3),(17.5,-56.5),
    (17.9,-56.6),(16.2,-56.7),(16.6,-57.4),(17.8,-57.4),(18.8,-56.5),(19.5,-57.4),(20.2,-57.3),(15.4,-57.9)]

orange = [(-35.3,21.2),(-35.4,20),(-37.8,18.5),(-37.3,17.5),(-31.4,19.4),(-30.8,19),(-29.8,18.7),(-31.4,17.6),(-30.7,17.9),(-35.9,15.7),(-40.2,14.8),
    (-39.2,15),(-38.9,14.8),(-44,11.9),(-43,12.1),(-44.8,10.2),(-42.1,9.6),(-46.4,9.2),(-46.3,8.6),(-47.3,8.6),(-47.9,7.5),(-48.2,6.9),(-48.8,5),(-48.8,4.5),
    (-48.9,3.9),(-46.8,3.1),(-46.4,3.2),(-48.9,2.1),(-47.7,2.1),(-48.8,.8),(-48,-.5),(-47.3,-.8),(-45.3,-.8),(-45.2,-1.5),(-44.5,.6),(-44,0),(-43.6,-1.1),
    (-43.2,-1.4),(-44.5,-2),(-47.2,-2.5),(-47.2,-3.6),(-46.1,-3.1),(-45.7,-3.9),(-45.3,-3.7),(-45.6,-5.4),(-45,-6.4),(-44,-6),
    (-21.1,10.8),(-27.4,8.5),(-21.1,7.4),(-28.1,6.9),(-28.3,6),(-25.3,6.4),(-22.6,6.1),(-24.9,5.2),(-20.2,3.2),(-29.1,1.9),(-22.1,0),(-20.5,.4),(-21.8,-2.7),
    (-15,4.9),(-7.7,2.7),(-7.1,2.5),(-9.6,2),(-10.2,1.2),(-9.6,.5),(-9.2,1.1),(-6.7,-3.7),(-7.5,-4.4),(-8.4,-5.9),
    (-19.9,-14.4),(-19.2,-15.4),(-18.2,-15.5),(-17.8,-16.5),(-17.3,-17),(-20.5,-17.3),
    (-28.4,-17.9),(-23.3,-16.4),(-27.6,-20.2),(-27.1,-20.2),(-26.8,-20),(-26,-20.7),(-31.3,-19.8),(-32.2,-20.4),(-31.8,-21.1),(-31.4,-21.2),(-34.3,-20.8),
    (-34.7,-21.5),(-36.1,-20.9),(-36.7,-21.2),(-37.4,-21.1),(-37.9,-21.3),(-38.6,-21.2),(-41.3,-21.9),(-43.5,-21.4),(-33.8,-23.4),(-34.2,-23.9),(-35.1,-23.4),
    (-35.3,-24),(-34.8,-24.3),(-34.4,-24.4),(-36,-24.4),(-34.3,-25.2),(-40.7,-24.1),(-40.3,-24.3),(-39.2,-24.5),(-40.6,-24.9),(-41.1,-25),(-41.8,-26.1),
    (-42.2,-29),(-42.6,-29.4),(-39.8,-29),(-39.5,-29.9),(-40.1,-30.1),(-39.4,-30.9),(-40.4,-30.9),(-39.8,-31.5),(-41.7,-32),(-42.8,-32.3),(-42.5,-33.6),
    (-42,-33.7),(-41.1,-34.5),(-41.4,-35),(-43.6,-34.8),(-43.4,-35.6),(-42.6,-35.8),(-41.9,-37.9),(-41.6,-39.9),(-41.3,-41),(-41.1,-42),(-40.9,-43),(-40.4,-43.3),
    (-40.7,-42.5),(-40.5,-43.5),(-40.2,-44),(-40,-44.5),(-40.4,-45),(-39.9,-45.5),(-40.3,-46),(-40,-46.2),(-41.4,-40.5),(-41.2,-41.5),(-41,-42.5),(-40.6,-43),
    (-40.3,-44.5),(-40.1,-45),
    (-14.2,63.3),(-13.4,63.1),(-12.5,63.1),(-10.9,66),(-10,66),(-9.4,66.3),(-10.6,62.5),(-10,61.4),(-9.4,60.6),(-7.9,59.5),(-5.9,57.4),(-5.6,56.3),(-5.2,55.3),
    (-4.7,54.2),(-5,53.4),(-4.3,51.8),(-4,50.2),(-3.6,44.7),(-3,44.4),(-1.2,42.3),(-.9,41.2),(-14.6,63.6),(-13.8,63.6),(-13,63.5),(-5.3,56.8),(-4.9,55.8),
    (-4.5,52.3),(-4.2,51),(-3.9,49.6),(-10.2,62),(-9.6,61),(-14,63.2),(-13,63.1),(-12.2,63.1),(-5.7,56.8),(-5.1,54.5),(-4.8,53),
    (12.7,30.2),(14.6,29.7),(14.3,25.8),(17.6,23),(22,21.5),(23.1,21.2),(27.9,16.7),(39.4,8.2),(39.7,4.3),(54.9,8.5),(54.2,7.9),(52,5),(51.7,4),(51.8,3.3),
    (44.1,2),(40.7,.1),(52.1,.4),(52.5,-1.7),(43.7,-1.7),(49.2,-6),(48.2,-6.7),(40.7,-5.7),(41,-7),(41.3,-7.4),(42.4,-7.3),(47.2,-7.8),(48.7,-8),
    (-22.8,-36.1),(-19.6,-34),(-19.3,-34.1),(-7,-36.4),(-15.8,-28.9),(-11.1,-27.9),(-10.6,-27.2),(-9.7,-27.8),(-12,-29.6),(-10.1,-30.2),(-12.9,-31.2),
    (-14.6,-31.2),(-15.2,-31.9),(-15.2,-32.9),(-14.2,-32.8),(-6.1,-29),(-5.8,-29.3),(1,-26.7),(10.3,-22.5),(15.6,-26.4),(17.8,-28.2),(18.7,-25.5),(13.4,-34.4),
    (5,-41.1),(10.6,-43),(11.5,-6.3),(10.5,-2.5),(9.3,-3.8),(10.2,-4.1),(17,-7.9),(20,-7.9),(21.6,-8.6),(21.5,-12.5),(18.6,-12.2),(19.3,-9.9),(24.3,-19),
    (27.7,-18.5),(-6.1,-62.7),(-5.6,-62),(32,-35.4),(29.7,-41.5),(32.5,-41.4),(33,-41.4),(37.4,-42),(36.8,-42.5),(38.4,-43),(34.5,-44.9),(34.7,-46.5),
    (29.7,-47.5),(36.1,-47.9),(28.6,-50.1),(34.6,-49.7),(21.9,-52),(31.6,-52.7),(16.9,-56.9),(23.3,-57.2)]

coral = [(-45.7,3.4),(-43.6,.8),(-41.3,8.3),(-44.2,-36.2),(48.3,-9.2),(8.3,1.7),(-3.6,-12.7),(-4,-15.5),(-18,-35.2),(-18.4,-42.6),(20.1,-17.4),(29.7,-19.7),
    (0,-63.6),(-2.4,-67.4),(-6.3,-68.5),(19,-47.8),(19.5,-47.8),(23.9,-43.5),(38.5,-43.3)]

x_ticks = [-80, -60, -40, -20, 0, 20, 40, 60, 80, 100]
y_ticks = [-80, -60, -40, -20, 0, 20, 40, 60, 80, 100]

# drawing order follows the overlaps seen in the reference
groups = [('olive', olive), ('brown', brown), ('tan', tan), ('gray', gray), ('mint', mint),
          ('cyan', cyan), ('teal', teal), ('navy', navy), ('salmon', salmon), ('red', red),
          ('green', green), ('purple', purple), ('pink', pink), ('orange', orange), ('coral', coral)]
colors = {'olive': '#A6A600', 'brown': '#7E6148', 'tan': '#B09C85', 'gray': '#6B7A75', 'mint': '#91D1C2',
          'cyan': '#4DBBD5', 'teal': '#00A087', 'navy': '#3C5488', 'salmon': '#F39B7F', 'red': '#DC0000',
          'green': '#80D966', 'purple': '#9999FF', 'pink': '#FF66D9', 'orange': '#D98C00', 'coral': '#FF7A70'}

frames = []
for name, pts in groups:
    part = pd.DataFrame(pts, columns=['x', 'y'])
    part['group'] = name
    frames.append(part)
df = pd.concat(frames, ignore_index=True)

sns.set_theme(style='ticks')
plt.rcParams['font.family'] = ['Liberation Sans', 'DejaVu Sans']
plt.rcParams['axes.unicode_minus'] = False

fig = plt.figure(figsize=(2967 / 300, 2307 / 300), dpi=300)
ax = fig.add_axes([0.0588, 0.05505, 0.9142, 0.9257])
sns.scatterplot(data=df, x='x', y='y', hue='group', palette=colors, s=11.5, linewidth=0,
                legend=False, ax=ax)

ax.set_xlim(-80.9, 100)
ax.set_ylim(-80, 100)
ax.set_xticks(x_ticks)
ax.set_yticks(y_ticks)
ax.set_xlabel('')
ax.set_ylabel('')
ax.tick_params(axis='both', direction='in', top=True, right=True, length=6.5, width=1,
               color='#262626', labelcolor='#262626', labelsize=19.7)
ax.tick_params(axis='x', pad=12)
ax.tick_params(axis='y', pad=8)
for spine in ax.spines.values():
    spine.set_visible(True)
    spine.set_linewidth(1)
    spine.set_color('#262626')

fig.savefig('out.png', dpi=300)
